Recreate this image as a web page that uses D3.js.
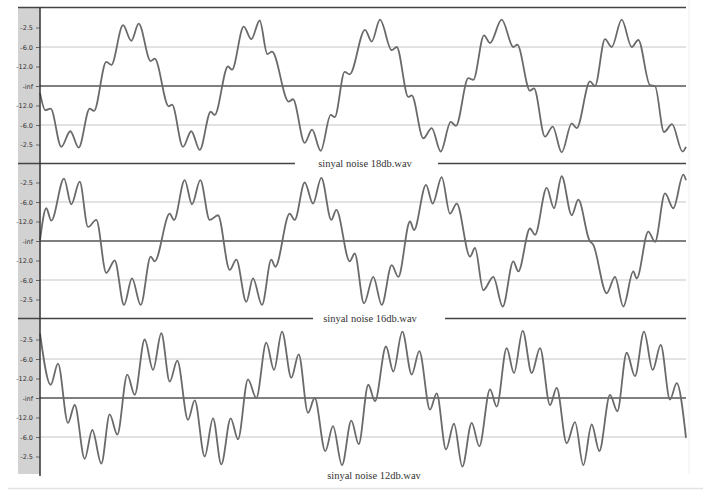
<!DOCTYPE html>
<html>
<head>
<meta charset="utf-8">
<script src="https://cdn.jsdelivr.net/npm/d3@7"></script>
<style>
  body { margin: 0; background: #fff; }
</style>
</head>
<body>
<svg id="chart" width="703" height="491"></svg>
<script>
// [sample, amplitude] read at every wiggle of each trace
var wave18 = [
  [0, -0.09], [5.3, -0.31], [10.7, -0.29], [21.3, -0.78], [30.3, -0.58], [38.7, -0.79],
  [49.7, -0.29], [54, -0.32], [66.3, 0.31], [71.3, 0.27], [83, 0.78], [91.3, 0.58],
  [98.7, 0.8], [110.7, 0.32], [114.7, 0.35], [128.7, -0.26], [132, -0.24], [143, -0.78],
  [151.3, -0.58], [159.7, -0.82], [170.7, -0.33], [174.7, -0.37], [188, 0.25], [192, 0.21],
  [203.7, 0.76], [211.3, 0.6], [219.7, 0.84], [227.3, 0.41], [232, 0.44], [248.7, -0.2],
  [253, -0.17], [264.7, -0.73], [272, -0.56], [280.7, -0.83], [290.7, -0.37], [294.7, -0.4],
  [304.7, 0.18], [309.7, 0.15], [325, 0.72], [331.7, 0.57], [340, 0.85], [351.7, 0.46],
  [356.7, 0.5], [368.3, -0.14], [371.7, -0.12], [383.3, -0.67], [391.7, -0.54], [400.7, -0.84],
  [410.7, -0.46], [416, -0.51], [428.3, 0.1], [433.3, 0.08], [444, 0.65], [450, 0.55],
  [461.7, 0.85], [473.3, 0.5], [477.3, 0.53], [490, -0.06], [494, -0.03], [505, -0.65],
  [512.7, -0.52], [521.7, -0.85], [531.7, -0.48], [536.7, -0.54], [550, 0.06], [555, 0],
  [565, 0.6], [571.7, 0.5], [581.7, 0.85], [591.7, 0.5], [598.3, 0.59], [610, 0.01],
  [615, 0], [624, -0.59], [632, -0.49], [642.5, -0.84], [646, -0.78]
]
var wave16 = [
  [0, 0.01], [6.3, 0.42], [11.3, 0.26], [24, 0.8], [31.3, 0.47], [39.7, 0.76],
  [48, 0.18], [56.3, 0.27], [66.3, -0.41], [74.7, -0.25], [84, -0.82], [92, -0.48],
  [100.7, -0.82], [110.7, -0.2], [114.7, -0.26], [129.7, 0.35], [134, 0.27], [144.7, 0.78],
  [152, 0.47], [160.3, 0.78], [169.7, 0.27], [178, 0.33], [189.7, -0.37], [196.3, -0.24],
  [206.3, -0.78], [213, -0.48], [222, -0.82], [231.3, -0.24], [235.3, -0.33], [249.7, 0.35],
  [254.7, 0.27], [264.7, 0.75], [273, 0.48], [281.3, 0.81], [291.3, 0.27], [296.3, 0.4],
  [309.7, -0.26], [314.7, -0.16], [324, -0.8], [333.3, -0.46], [341.7, -0.82], [351.7, -0.31],
  [358.3, -0.46], [370, 0.25], [374, 0.14], [386, 0.72], [392.7, 0.48], [401.7, 0.82],
  [410, 0.35], [416.7, 0.48], [430, -0.2], [435, -0.09], [443.3, -0.63], [453.3, -0.46],
  [462.7, -0.84], [473.3, -0.26], [478.3, -0.39], [490, 0.16], [495, 0.08], [506.7, 0.68],
  [514, 0.42], [521.7, 0.83], [531.7, 0.33], [538.3, 0.53], [549.3, 0.01], [553.3, -0.05],
  [566.7, -0.67], [575, -0.46], [583.3, -0.84], [593.3, -0.39], [596.7, -0.48], [608.3, 0.12],
  [615, -0.01], [625, 0.61], [633.3, 0.42], [643.3, 0.85], [646, 0.78]
]
var wave12 = [
  [0, 0.83], [10.7, 0.17], [18, 0.44], [28, -0.32], [34.7, -0.09], [44.7, -0.78],
  [52.3, -0.41], [61.3, -0.84], [69.7, -0.21], [77.3, -0.47], [87.3, 0.3], [94.7, 0.04],
  [104.7, 0.75], [113, 0.36], [121.3, 0.83], [129.7, 0.21], [137.3, 0.48], [148, -0.28],
  [154.7, -0.03], [164.7, -0.75], [173, -0.26], [181.3, -0.85], [190.7, -0.26], [198, -0.53],
  [208, 0.24], [216.3, 0], [226.3, 0.71], [234, 0.36], [242, 0.85], [251.3, 0.26],
  [258.7, 0.56], [268, -0.19], [274.7, 0], [285.3, -0.68], [293, -0.36], [302, -0.86],
  [311.3, -0.29], [318.7, -0.59], [328.3, 0.17], [335, -0.04], [346, 0.66], [353.3, 0.34],
  [362.3, 0.85], [371.7, 0.3], [379.3, 0.6], [390, -0.15], [396.7, 0.06], [406, -0.66],
  [414, -0.33], [422.3, -0.88], [431.7, -0.32], [439.3, -0.62], [450, 0.11], [456.7, -0.11],
  [466.7, 0.64], [474, 0.32], [482.7, 0.86], [491.7, 0.32], [500, 0.64], [510, -0.09],
  [516.7, 0.13], [526.7, -0.58], [535, -0.31], [543.3, -0.86], [551.7, -0.34], [559.3, -0.68],
  [570, 0.04], [577.3, -0.17], [586.7, 0.58], [595, 0.28], [604, 0.85], [612.7, 0.36],
  [620.7, 0.68], [630, -0.02], [636.7, 0.19], [646, -0.51]
]
var waveNames = ['sinyal noise 18db.wav', 'sinyal noise 16db.wav', 'sinyal noise 12db.wav']
var tickAmps = [0.75, 0.5, 0.25, 0, -0.25, -0.5, -0.75]
var gridAmps = [0.5, -0.5]

var waves = [wave18, wave16, wave12]

var svg = d3.select('#chart')

var left = 40
var right = 686
var panelTop = [8, 163, 320]
var panelHeight = 156
// where the separator line stops for the file name
var labelGap = [[295, 438], [313, 445], null]
var labelX = [365, 370, 374]

var xPositionScale = d3.scaleLinear().domain([0, 646]).range([left, right])

// grey ruler strip on the left
svg.append('rect')
  .attr('x', 18)
  .attr('y', 7)
  .attr('width', left - 18)
  .attr('height', 467)
  .attr('fill', '#d2d2d2')

// faint frame lines at bottom and right
svg.append('line')
  .attr('x1', 8).attr('x2', 703)
  .attr('y1', 488.5).attr('y2', 488.5)
  .attr('stroke', '#e2e2e2')
  .attr('stroke-width', 1.5)
svg.append('line')
  .attr('x1', 689).attr('x2', 689)
  .attr('y1', 0).attr('y2', 474)
  .attr('stroke', '#f0f0f0')
  .attr('stroke-width', 1)

waves.forEach(function(data, i) {
  var top = panelTop[i]
  var yPositionScale = d3.scaleLinear()
    .domain([-1, 1])
    .range([top + panelHeight, top])

  var g = svg.append('g').attr('class', 'panel')

  // light grid at half scale
  g.selectAll('.grid')
    .data(gridAmps)
    .enter()
    .append('line')
    .attr('class', 'grid')
    .attr('x1', left).attr('x2', right)
    .attr('y1', d => yPositionScale(d)).attr('y2', d => yPositionScale(d))
    .attr('stroke', '#d8d8d8')
    .attr('stroke-width', 1.6)

  // centre line
  g.append('line')
    .attr('x1', left).attr('x2', right)
    .attr('y1', yPositionScale(0)).attr('y2', yPositionScale(0))
    .attr('stroke', '#555')
    .attr('stroke-width', 1.4)

  // top separator (first panel) / separators under file names
  if (i === 0) {
    g.append('line')
      .attr('x1', 18).attr('x2', right)
      .attr('y1', yPositionScale(1) - 0.5).attr('y2', yPositionScale(1) - 0.5)
      .attr('stroke', '#444')
      .attr('stroke-width', 1.5)
  }

  var line = d3.line()
    .x(d => xPositionScale(d[0]))
    .y(d => yPositionScale(d[1]))
    .curve(d3.curveMonotoneX)

  g.append('path')
    .datum(data)
    .attr('d', line)
    .attr('fill', 'none')
    .attr('stroke', '#6a6a6a')
    .attr('stroke-width', 1.8)
    .attr('stroke-linejoin', 'round')

  var bottomY = yPositionScale(-1) - 0.5
  if (labelGap[i]) {
    g.append('line')
      .attr('x1', 18).attr('x2', labelGap[i][0])
      .attr('y1', bottomY).attr('y2', bottomY)
      .attr('stroke', '#444')
      .attr('stroke-width', 1.5)
    g.append('line')
      .attr('x1', labelGap[i][1]).attr('x2', right)
      .attr('y1', bottomY).attr('y2', bottomY)
      .attr('stroke', '#444')
      .attr('stroke-width', 1.5)
  }

  g.append('text')
    .text(waveNames[i])
    .attr('x', labelX[i])
    .attr('y', bottomY + 3.5)
    .attr('text-anchor', 'middle')
    .attr('font-family', 'Liberation Serif, serif')
    .attr('font-size', 10.5)
    .attr('fill', '#333')

  // dB ruler
  var yAxis = d3.axisLeft(yPositionScale)
    .tickValues(tickAmps)
    .tickSize(4)
    .tickPadding(3)
    .tickFormat(function(d) {
      if (d === 0) return '-inf'
      return (20 * Math.log10(Math.abs(d))).toFixed(1)
    })
  var axis = g.append('g')
    .attr('class', 'axis y-axis')
    .attr('transform', 'translate(' + left + ',0)')
    .call(yAxis)
  axis.select('.domain').remove()
  axis.selectAll('text')
    .attr('font-family', 'DejaVu Sans, sans-serif')
    .attr('font-size', 6.5)
    .attr('fill', '#333')
  axis.selectAll('line').attr('stroke', '#666')
})

// left edge of the wave area
svg.append('line')
  .attr('x1', left).attr('x2', left)
  .attr('y1', 7).attr('y2', 476)
  .attr('stroke', '#333')
  .attr('stroke-width', 1.5)
</script>
</body>
</html>
